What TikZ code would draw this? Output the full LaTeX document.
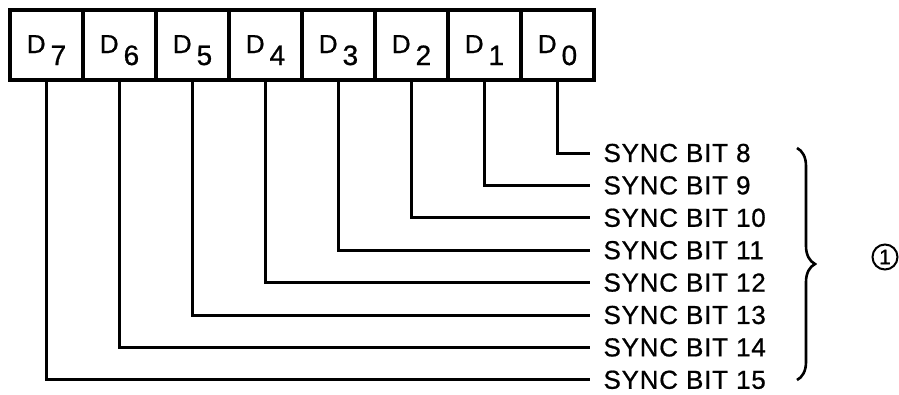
\documentclass[tikz,border=0pt]{standalone}
\usepackage{fontspec}
\setmainfont{Liberation Sans}
\newfontfamily\platefont[FakeBold=0.8]{Liberation Sans}
\usetikzlibrary{positioning, decorations.pathreplacing}

\begin{document}
\begin{tikzpicture}[x=1pt, y=-1pt, line width=3pt,
    bitbox/.style={draw, line width=3.2pt, minimum width=73pt, minimum height=70pt, inner sep=0pt,
      text height=28pt, text depth=12pt, font=\platefont\fontsize{26}{26}\selectfont},
    synclabel/.style={anchor=west, inner xsep=12pt, inner ysep=0pt,
      font=\platefont\fontsize{26}{26}\selectfont\addfontfeature{LetterSpace=3}},
    notemark/.style={draw, circle, line width=2pt, minimum size=25pt, inner sep=0pt,
      font=\platefont\fontsize{21}{21}\selectfont}]
  \useasboundingbox (0,0) rectangle (899,394);
  \foreach \i in {0,...,7}
    \node[bitbox] (d\i) at ({46.5+73*(7-\i)}, 45)
      {D\hspace{5pt}\raisebox{-12pt}{\fontsize{28}{28}\selectfont\i}};
  \foreach \i [evaluate=\i as \b using int(\i+8)] in {0,...,7} {
    \node[synclabel] (s\b) at (590, {153+32.4*\i}) {SYNC BIT \b};
    \draw (d\i.south) |- (s\b.west);
  }
  \draw[decorate, decoration={brace, amplitude=18pt}, line width=2.6pt] (797,148) -- (797,380);
  \node[notemark] (note) at (885,257) {1};
\end{tikzpicture}
\end{document}
